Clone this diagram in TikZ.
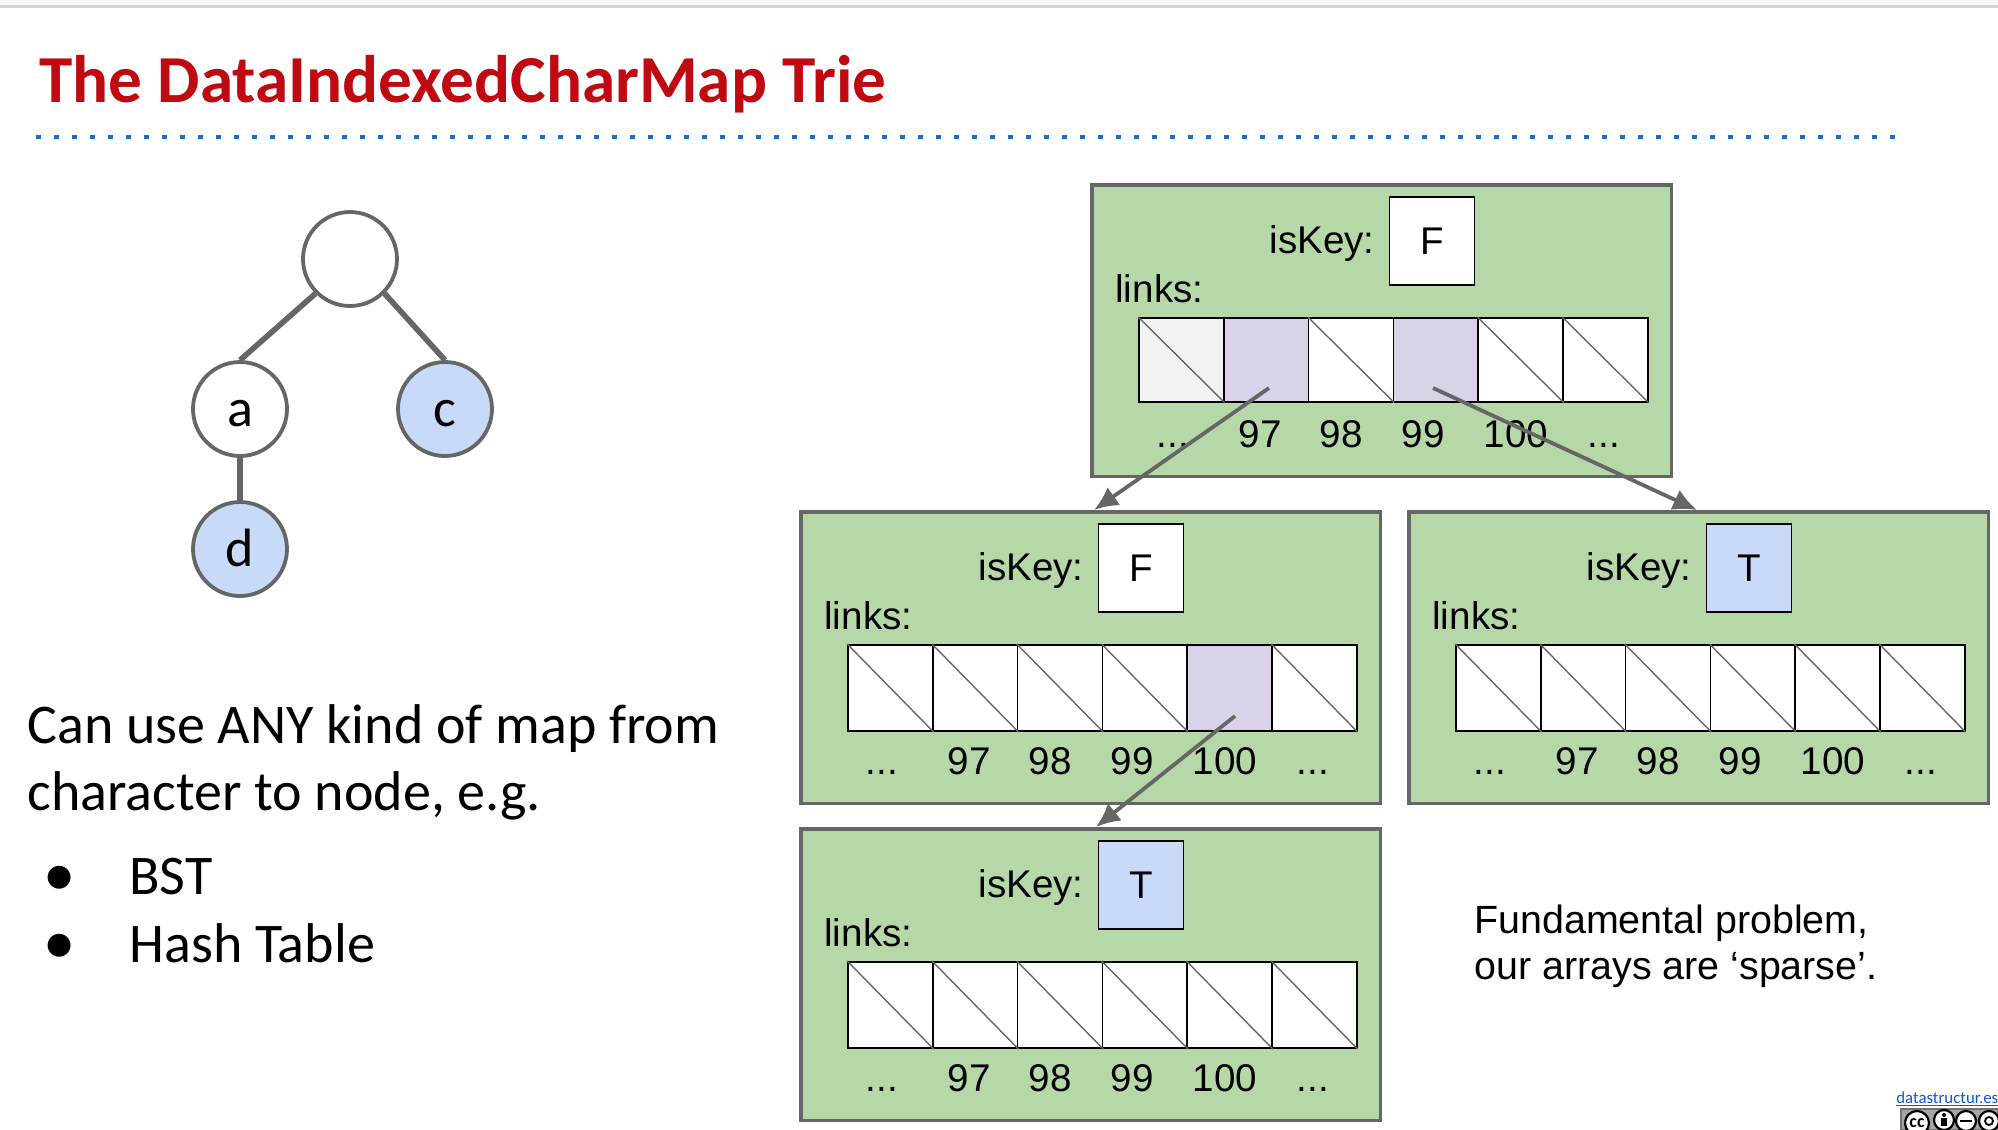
\documentclass[tikz,border=0pt]{standalone}
\usepackage{fontspec}
\setmainfont{Carlito}
\newfontfamily\arialf{Liberation Sans}
\newfontfamily\dejavuf{DejaVu Sans}
\usetikzlibrary{arrows.meta}
\definecolor{trieGreen}{HTML}{B6D7A8}
\definecolor{trieBlue}{HTML}{C9DAF8}
\definecolor{triePurple}{HTML}{D9D2E9}
\definecolor{trieGrey}{HTML}{666666}
\definecolor{titleRed}{HTML}{BF0A12}
\definecolor{dotBlue}{HTML}{1C6FC9}
\definecolor{linkBlue}{HTML}{1155CC}
\newcommand{\dotlab}{...}
\tikzset{
  x=0.5pt,y=-0.5pt,
  outerbox/.style={draw=trieGrey,line width=1.9pt,fill=trieGreen,minimum width=289.9pt,minimum height=145.9pt,inner sep=0pt,anchor=north west},
  keybox/.style={draw=black,line width=0.8pt,fill=white,minimum width=42.5pt,minimum height=44pt,inner sep=0pt,font=\arialf\fontsize{19.3}{22}\selectfont},
  cellbox/.style={draw=black,line width=0.8pt,fill=white,minimum width=42.4pt,minimum height=42pt,inner sep=0pt,anchor=north},
  trietext/.style={inner sep=0pt,font=\arialf\fontsize{19.3}{22}\selectfont,anchor=base},
  notetext/.style={inner sep=0pt,font=\arialf\fontsize{19.7}{22}\selectfont,anchor=base west},
  lefttext/.style={inner sep=0pt,font=\fontsize{28}{32}\selectfont,anchor=base west},
  treenode/.style={circle,draw=trieGrey,line width=1.9pt,fill=white,minimum size=47pt,inner sep=0pt,font=\fontsize{27}{30}\selectfont,text height=17.5pt,text depth=0pt},
  treeedge/.style={draw=trieGrey,line width=2.8pt},
  ptr/.style={draw=trieGrey,line width=1.9pt,-{Latex[length=12pt,width=11pt]}},
  slash/.style={draw=trieGrey,line width=0.7pt},
  ccicon/.style={circle,draw=black,line width=1.1pt,fill=white,minimum size=10pt,inner sep=0pt},
}
% #1 name, #2 left, #3 top, #4 key, #5 key fill, #6 cell height
\newcommand{\trieNode}[6]{%
  \node[outerbox] (#1) at (#2-1.3,#3-1.3) {};
  \node[trietext] (#1k) at (#2+231,#3+69) {isKey:};
  \node[keybox,fill=#5] (#1b) at (#2+341,#3+57) {#4};
  \node[trietext,anchor=base west] (#1l) at (#2+24,#3+118) {links:};
  \foreach \i/\lab/\lx in {0/\dotlab/82,1/97/169,2/98/250,3/99/332,4/100/425,5/\dotlab/513}{
    \node[cellbox,minimum height=#6] (#1c\i) at (#2+90.4+84.8*\i,#3+133) {};
    \node[trietext] (#1t\i) at (#2+\lx,#3+263) {\lab};
  }
}
\begin{document}
\begin{tikzpicture}
\useasboundingbox (0,0) rectangle (1998,1130);
\fill[white] (0,0) rectangle (1998,1130);
\fill[black!3] (0,0) rectangle (1998,6);
\fill[black!17] (0,5) rectangle (1998,8);
% title
\node[inner sep=0pt,anchor=base west,text=titleRed,font=\bfseries\fontsize{33.6}{38}\selectfont] (title) at (39,102) {The DataIndexedCharMap Trie};
\foreach \k in {0,...,103}{\fill[dotBlue] (36+18*\k,134.5) rectangle ++(4.5,4.5);}
% small trie
\node[treenode] (root) at (350,259) {};
\node[treenode] (na) at (240,409) {a};
\node[treenode,fill=trieBlue] (nc) at (445,409) {c};
\node[treenode,fill=trieBlue] (nd) at (240,549) {d};
\draw[treeedge] (root.south west) -- (na.north);
\draw[treeedge] (root.south east) -- (nc.north);
\draw[treeedge] (na) -- (nd);
% left text
\node[lefttext] (l1) at (27,743) {Can use ANY kind of map from};
\node[lefttext] (l2) at (27,810) {character to node, e.g.};
\node[inner sep=0pt,font=\dejavuf\fontsize{15}{18}\selectfont] (b1) at (60,878) {●};
\node[lefttext] (l3) at (129,894) {BST};
\node[inner sep=0pt,font=\dejavuf\fontsize{15}{18}\selectfont] (b2) at (60,946) {●};
\node[lefttext] (l4) at (129,962) {Hash Table};
% trie boxes
\trieNode{A}{1091}{184}{F}{white}{42pt}
\trieNode{B}{800}{511}{F}{white}{43.2pt}
\trieNode{C}{1408}{511}{T}{trieBlue}{43.2pt}
\trieNode{D}{800}{828}{T}{trieBlue}{43.2pt}
% special cell fills
\node[cellbox,anchor=center,fill=black!5] at (Ac0) {};
\node[cellbox,anchor=center,fill=triePurple] at (Ac1) {};
\node[cellbox,anchor=center,fill=triePurple] at (Ac3) {};
\node[cellbox,anchor=center,minimum height=43.2pt,fill=triePurple] at (Bc4) {};
% null slashes
\foreach \c in {Ac0,Ac2,Ac4,Ac5,Bc0,Bc1,Bc2,Bc3,Bc5,Cc0,Cc1,Cc2,Cc3,Cc4,Cc5,Dc0,Dc1,Dc2,Dc3,Dc4,Dc5}{
  \draw[slash] (\c.north west) -- (\c.south east);
}
\node[notetext] (f1) at (1474,933) {Fundamental problem,};
\node[notetext] (f2) at (1474,979) {our arrays are ‘sparse’.};
% pointers
\coordinate (s1) at (1269,388);
\coordinate (e1) at (1094,510);
\coordinate (s2) at (1433,388);
\coordinate (e2) at (1697,510);
\coordinate (s3) at (1235,716);
\coordinate (e3) at (1096,827);
\draw[ptr] (s1) -- (e1);
\draw[ptr] (s2) -- (e2);
\draw[ptr] (s3) -- (e3);
% attribution
\node[inner sep=0pt,anchor=base west,text=linkBlue,font=\fontsize{8.4}{10}\selectfont] (site) at (1896,1103) {\underbar{datastructur.es}};
\fill[black!35] (1901,1109) rectangle (1998,1130);
\draw[black!55,line width=0.6pt] (1901,1109) rectangle (1998,1130);
\node[ccicon,minimum size=12pt,font=\bfseries\fontsize{9}{9}\selectfont] (cc) at (1917,1123) {cc};
\node[ccicon] (by) at (1944,1120) {};
\node[ccicon] (nc2) at (1966,1121) {};
\node[ccicon] (sa) at (1989,1121) {};
\fill (1944,1115) circle (2);
\fill (1941,1118) rectangle (1947,1126);
\draw[line width=0.8pt] (1960,1121) -- (1972,1121);
\draw[line width=0.9pt] (1989,1121) circle (4);
\end{tikzpicture}
\end{document}
